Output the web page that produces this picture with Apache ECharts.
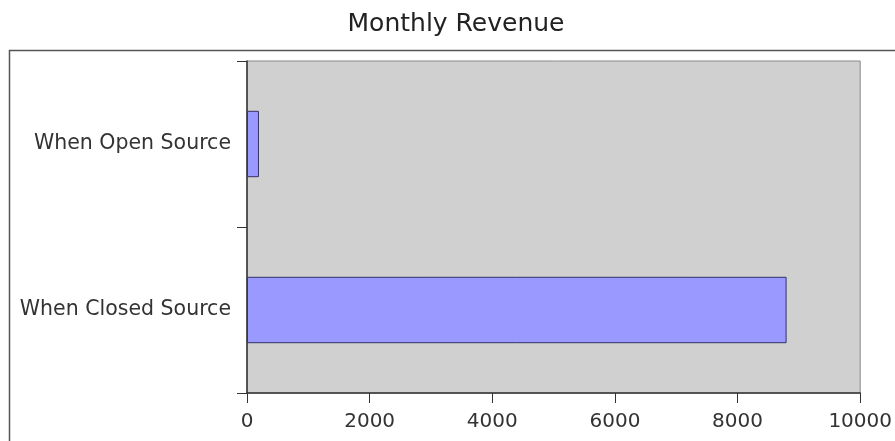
<!DOCTYPE html>
<html>
<head>
<meta charset="utf-8">
<script src="https://cdn.jsdelivr.net/npm/echarts@6/dist/echarts.min.js"></script>
<style>
  html, body { margin: 0; padding: 0; background: #fff; }
  #myChart { width: 895px; height: 441px; }
</style>
</head>
<body>
<div id="myChart"></div>
<script>
  // data
  const categories = ['When Closed Source', 'When Open Source'];
  const revenue = [8800, 195];
  const xTicks = [0, 2000, 4000, 6000, 8000, 10000];

  const chart = echarts.init(document.getElementById('myChart'));
  const option = {
    animation: false,
    title: {
      text: 'Monthly Revenue',
      left: 451,
      top: 7,
      textAlign: 'center',
      textStyle: {
        fontFamily: 'DejaVu Sans',
        fontWeight: 'normal',
        fontSize: 25,
        color: '#222'
      }
    },
    graphic: [{
      type: 'rect',
      shape: { x: 9.5, y: 50.5, width: 920, height: 420 },
      style: { fill: 'none', stroke: '#555', lineWidth: 1.5 },
      z: -1
    }],
    grid: {
      left: 247,
      top: 61,
      right: 32,
      bottom: 48,
      show: true,
      backgroundColor: '#d0d0d0',
      borderColor: '#8a8a8a',
      borderWidth: 1
    },
    xAxis: {
      type: 'value',
      min: xTicks[0],
      max: xTicks[xTicks.length - 1],
      interval: 2000,
      splitLine: { show: false },
      axisLine: { show: true, lineStyle: { color: '#333', width: 1.5 } },
      axisTick: { show: true, length: 10, lineStyle: { color: '#333' } },
      axisLabel: {
        margin: 19,
        fontFamily: 'DejaVu Sans',
        fontSize: 20,
        color: '#333',
        formatter: v => String(v)
      }
    },
    yAxis: {
      type: 'category',
      data: categories,
      axisLine: { show: true, lineStyle: { color: '#333', width: 1.5 } },
      axisTick: { show: true, length: 10, lineStyle: { color: '#333' } },
      axisLabel: {
        margin: 16,
        fontFamily: 'DejaVu Sans',
        fontSize: 20.5,
        color: '#333'
      }
    },
    series: [{
      type: 'bar',
      data: revenue,
      barWidth: '40%',
      itemStyle: {
        color: '#9999ff',
        borderColor: '#333366',
        borderWidth: 1
      }
    }]
  };
  chart.setOption(option);
</script>
</body>
</html>
